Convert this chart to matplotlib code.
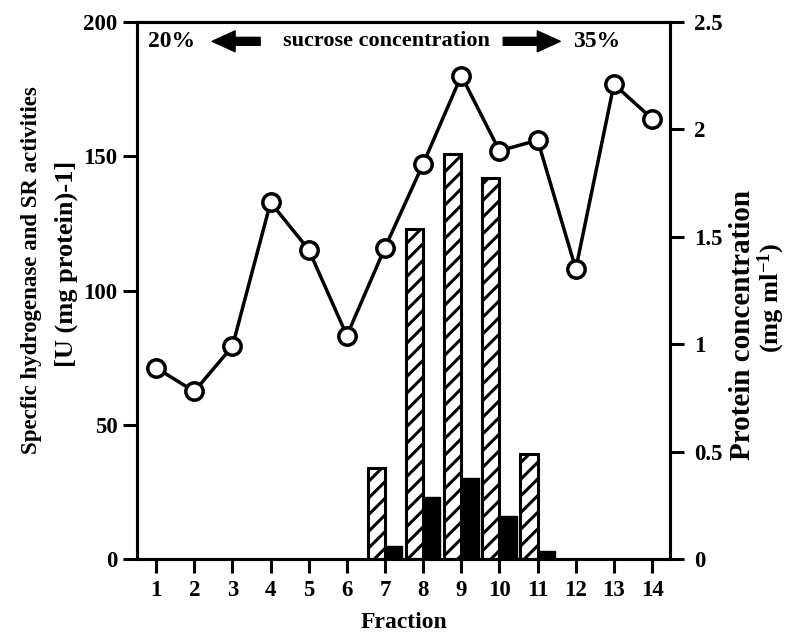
import matplotlib
matplotlib.use("Agg")
import matplotlib.pyplot as plt
import numpy as np

plt.rcParams['font.family'] = 'Liberation Serif'
plt.rcParams['font.weight'] = 'bold'
plt.rcParams['mathtext.fontset'] = 'custom'
plt.rcParams['mathtext.rm'] = 'Liberation Serif:bold'
plt.rcParams['mathtext.default'] = 'rm'
plt.rcParams['hatch.linewidth'] = 2.2

fraction = [1, 2, 3, 4, 5, 6, 7, 8, 9, 10, 11, 12, 13, 14]
protein = [0.89, 0.78, 0.99, 1.66, 1.44, 1.04, 1.45, 1.84, 2.25, 1.90, 1.95, 1.35, 2.21, 2.05]
bar_fractions = [7, 8, 9, 10, 11]
hydrogenase = [34, 123, 151, 142, 39]
sr_activity = [5, 23, 30, 16, 3]

fig = plt.figure(figsize=(7.88, 6.43), dpi=100)
ax = fig.add_axes([0.1739, 0.1306, 0.6764, 0.8352])

bw = 0.45
ax.bar(bar_fractions, hydrogenase, width=-bw, align='edge', color='white',
       edgecolor='black', linewidth=2.2, hatch='//')
ax.bar(bar_fractions, sr_activity, width=bw, align='edge', color='black',
       edgecolor='black', linewidth=1)

ax.set_xlim(0.5, 14.47)
ax.set_ylim(0, 200)
ax.set_xticks(fraction)
ax.set_yticks([0, 50, 100, 150, 200])
ax.set_xlabel('Fraction', fontsize=17, fontweight='bold', labelpad=8)

ax2 = ax.twinx()
ax2.plot(fraction, protein, color='black', lw=2.5, marker='o', ms=12.5,
         mfc='white', mec='black', mew=2.5, clip_on=False)
ax2.set_ylim(0, 2.5)
ax2.set_yticks([0, 0.5, 1, 1.5, 2, 2.5])
ax2.set_yticklabels(['0', '0.5', '1', '1.5', '2', '2.5'])

for a in (ax, ax2):
    for s in a.spines.values():
        s.set_linewidth(2.2)
    a.tick_params(direction='out', length=10, width=2.2, labelsize=16.5)
    for lab in a.get_xticklabels() + a.get_yticklabels():
        lab.set_fontweight('bold')
ax.tick_params(axis='y', pad=4)
ax.tick_params(axis='x', pad=5)
ax2.tick_params(axis='y', pad=7)

# axis titles, placed line by line as in the original
fig.text(0.0406, 0.580, 'Specfic hydrogenase and SR activities', rotation=90,
         ha='center', va='center', fontsize=16.5, fontweight='bold')
fig.text(0.0838, 0.589, '[U (mg protein)-1]', rotation=90,
         ha='center', va='center', fontsize=19, fontweight='bold')
fig.text(0.942, 0.495, 'Protein concentration', rotation=90,
         ha='center', va='center', fontsize=21, fontweight='bold')
fig.text(0.979, 0.537, '(mg ml$^{-1}$)', rotation=90,
         ha='center', va='center', fontsize=19, fontweight='bold')

yt = 0.964
ax.text(0.064, yt, '20%', transform=ax.transAxes, ha='center', va='center',
        fontsize=17, fontweight='bold')
ax.text(0.467, yt, 'sucrose concentration', transform=ax.transAxes, ha='center',
        va='center', fontsize=16, fontweight='bold')
ax.text(0.862, yt, '35%', transform=ax.transAxes, ha='center', va='center',
        fontsize=17, fontweight='bold')
arrow = dict(arrowstyle='simple,head_length=1.1,head_width=1.0,tail_width=0.38',
             color='black', mutation_scale=15, shrinkA=0, shrinkB=0)
ax.annotate('', xy=(0.141, yt), xytext=(0.231, yt), xycoords='axes fraction',
            arrowprops=arrow)
ax.annotate('', xy=(0.794, yt), xytext=(0.687, yt), xycoords='axes fraction',
            arrowprops=arrow)

fig.savefig('out.png', dpi=100)
